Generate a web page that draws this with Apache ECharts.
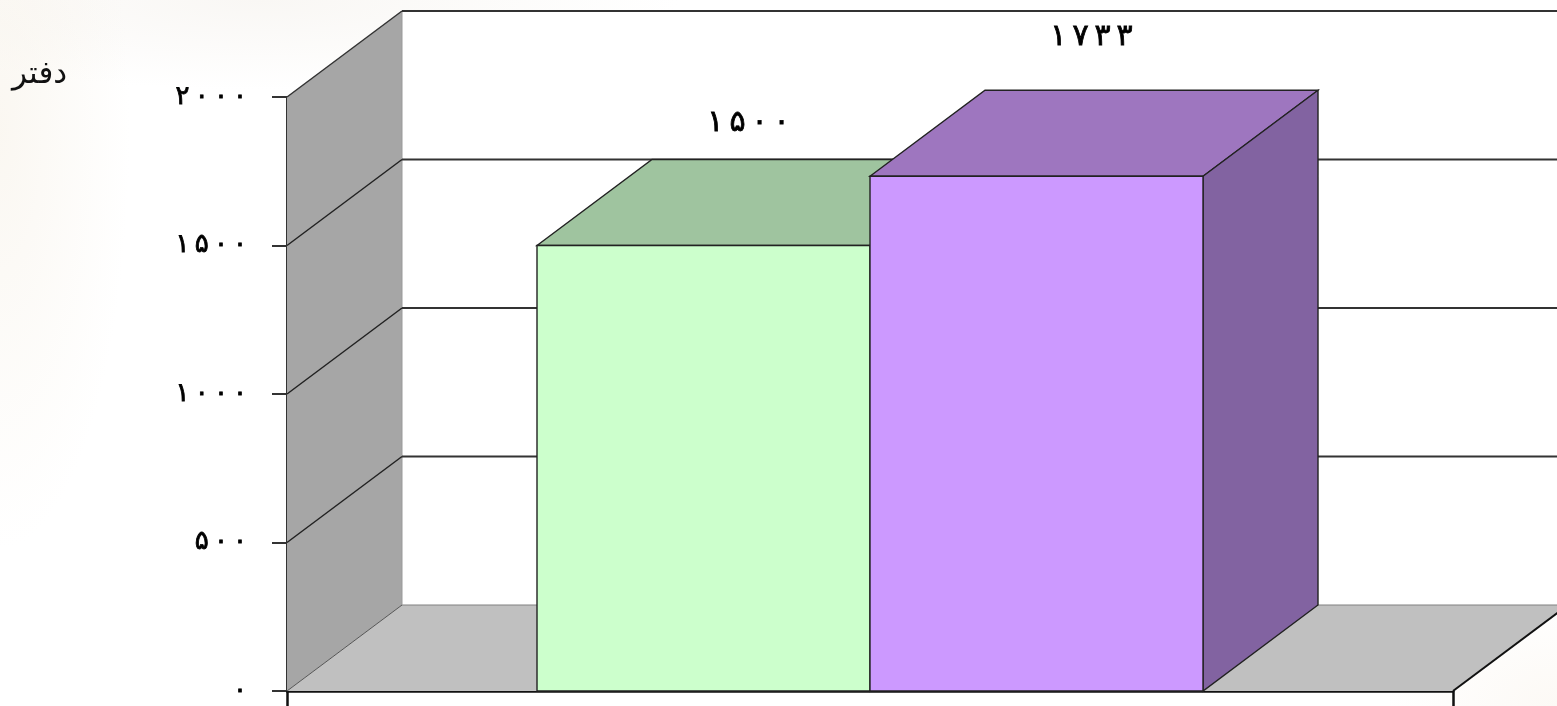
<!DOCTYPE html>
<html>
<head>
<meta charset="utf-8">
<title>دفتر</title>
<script src="https://cdn.jsdelivr.net/npm/echarts@6/dist/echarts.min.js"></script>
<style>
  html, body { margin: 0; height: 100%; }
  body {
    background:
      radial-gradient(ellipse 130px 420px at 0 130px, rgba(245, 238, 225, 0.45), rgba(245, 238, 225, 0)),
      radial-gradient(ellipse 420px 90px at 260px 0, rgba(240, 235, 228, 0.4), rgba(240, 235, 228, 0)),
      radial-gradient(ellipse 170px 110px at 1557px 706px, rgba(248, 240, 230, 0.4), rgba(248, 240, 230, 0)),
      #fff;
  }
  #chart { width: 1557px; height: 706px; }
</style>
</head>
<body>
<div id="chart"></div>
<script>
const categories = ['']
const yTicks = [0, 500, 1000, 1500, 2000]
const yTickLabels = ['۰', '۵۰۰', '۱۰۰۰', '۱۵۰۰', '۲۰۰۰']
const barValues = [1500, 1733]
const barLabels = ['۱۵۰۰', '۱۷۳۳']
const unitLabel = 'دفتر'

// 3d look of the old office chart
const DEPTH_X = 115
const DEPTH_Y = 86
const BAR_RATIO = 333 / 1166
const LABEL_LIFT = [122, 139]
const LABEL_SHIFT = [45, 55]
const barFaces = [
  { front: '#ccffcc', top: '#9fc49f', side: '#8aa98a' },
  { front: '#cc99ff', top: '#9e76bf', side: '#8263a1' },
]
const digitFont = '"DejaVu Sans", "Noto Sans", sans-serif'

// wide gaps between the digits, as in the picture
const spaced = (s) => Array.from(s).join('\u2009')

function poly(points, fill, stroke, lineWidth) {
  return {
    type: 'polygon',
    shape: { points },
    style: { fill, stroke: stroke || 'none', lineWidth: lineWidth || 0 },
  }
}

function line(a, b, stroke, lineWidth) {
  return {
    type: 'line',
    shape: { x1: a[0], y1: a[1], x2: b[0], y2: b[1] },
    style: { stroke, lineWidth },
  }
}

function renderWalls(params, api) {
  const band = api.size([1, 0])[0]
  const left = api.coord([0, 0])[0] - band / 2
  const right = left + band
  const y = (v) => api.coord([0, v])[1]
  const y0 = y(0)
  const yMax = y(yTicks[yTicks.length - 1])
  const children = [
    poly([[left + DEPTH_X, y0 - DEPTH_Y], [right + DEPTH_X, y0 - DEPTH_Y], [right + DEPTH_X, yMax - DEPTH_Y], [left + DEPTH_X, yMax - DEPTH_Y]], '#ffffff'),
    poly([[left, y0], [right, y0], [right + DEPTH_X, y0 - DEPTH_Y], [left + DEPTH_X, y0 - DEPTH_Y]], '#c0c0c0'),
    poly([[left, y0], [left + DEPTH_X, y0 - DEPTH_Y], [left + DEPTH_X, yMax - DEPTH_Y], [left, yMax]], '#a6a6a6'),
    line([left + DEPTH_X, y0 - DEPTH_Y], [right + DEPTH_X, y0 - DEPTH_Y], '#808080', 1),
    line([left + DEPTH_X, y0 - DEPTH_Y], [left + DEPTH_X, yMax - DEPTH_Y], '#9a9a9a', 1),
    line([left, y0], [left + DEPTH_X, y0 - DEPTH_Y], '#555555', 1),
    line([left, yMax], [left + DEPTH_X, yMax - DEPTH_Y], '#333333', 1.5),
    line([right, y0], [right + DEPTH_X, y0 - DEPTH_Y], '#111111', 2),
  ]
  yTicks.slice(1).forEach((v) => {
    const yy = y(v)
    if (v !== yTicks[yTicks.length - 1]) children.push(line([left, yy], [left + DEPTH_X, yy - DEPTH_Y], '#222222', 1.5))
    children.push(line([left + DEPTH_X, yy - DEPTH_Y], [right + DEPTH_X, yy - DEPTH_Y], '#333333', 2))
  })
  return { type: 'group', children }
}

function renderBar(params, api) {
  const i = params.seriesIndex - 1
  const band = api.size([1, 0])[0]
  const w = band * BAR_RATIO
  const center = api.coord([0, 0])[0]
  const x0 = center + (i - 1) * w
  const x1 = x0 + w
  const yBase = api.coord([0, 0])[1]
  const yTop = api.coord([0, api.value(1)])[1]
  const faces = barFaces[i]
  const edge = '#222222'
  return {
    type: 'group',
    children: [
      poly([[x0, yTop], [x1, yTop], [x1 + DEPTH_X, yTop - DEPTH_Y], [x0 + DEPTH_X, yTop - DEPTH_Y]], faces.top, edge, 1.4),
      poly([[x1, yTop], [x1 + DEPTH_X, yTop - DEPTH_Y], [x1 + DEPTH_X, yBase - DEPTH_Y], [x1, yBase]], faces.side, edge, 1.4),
      poly([[x0, yTop], [x1, yTop], [x1, yBase], [x0, yBase]], faces.front, edge, 1.4),
      {
        type: 'text',
        style: {
          x: (x0 + x1) / 2 + LABEL_SHIFT[i],
          y: yTop - LABEL_LIFT[i],
          text: spaced(barLabels[i]),
          fill: '#000',
          stroke: '#000',
          lineWidth: 0.8,
          font: '30px ' + digitFont,
          align: 'center',
          verticalAlign: 'middle',
        },
      },
    ],
  }
}

const chart = echarts.init(document.getElementById('chart'), undefined, { renderer: 'canvas' })

chart.setOption({
  animation: false,
  backgroundColor: 'transparent',
  title: {
    text: unitLabel,
    left: 7,
    top: 54,
    textStyle: { color: '#111', fontSize: 31, fontWeight: 'normal', fontFamily: '"DejaVu Sans", sans-serif' },
  },
  grid: { left: 287, right: 104, top: 97, bottom: 15 },
  xAxis: {
    type: 'category',
    data: categories,
    axisLine: { onZero: false, lineStyle: { color: '#111', width: 2.5 } },
    axisTick: { show: true, alignWithLabel: false, length: 15, lineStyle: { color: '#111', width: 2.5 } },
    axisLabel: { show: false },
  },
  yAxis: {
    type: 'value',
    min: 0,
    max: 2000,
    interval: 500,
    axisLine: { show: true, lineStyle: { color: '#333', width: 2 } },
    axisTick: { show: true, length: 15, lineStyle: { color: '#333', width: 2 } },
    splitLine: { show: false },
    axisLabel: {
      margin: 40,
      color: '#000',
      fontSize: 26,
      textBorderColor: '#000',
      textBorderWidth: 0.8,
      fontFamily: digitFont,
      formatter: (v) => spaced(yTickLabels[yTicks.indexOf(v)]),
    },
  },
  series: [
    {
      type: 'custom',
      silent: true,
      clip: false,
      z: 1,
      renderItem: renderWalls,
      data: [[0, 0]],
    },
    ...barValues.map((v, i) => ({
      type: 'custom',
      silent: true,
      clip: false,
      z: 2 + i,
      renderItem: renderBar,
      data: [[0, v]],
    })),
  ],
})
</script>
</body>
</html>
